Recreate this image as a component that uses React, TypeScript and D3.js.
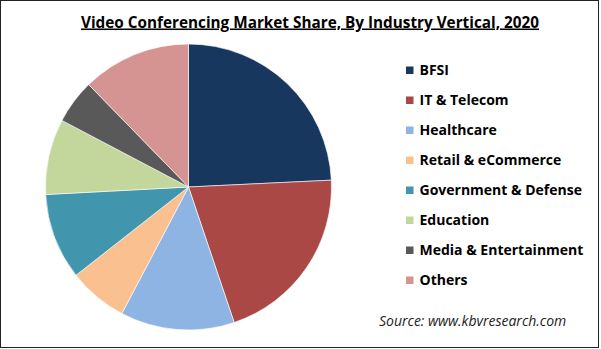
import React from "react";
import * as d3 from "d3";

const categories = [
  "BFSI",
  "IT & Telecom",
  "Healthcare",
  "Retail & eCommerce",
  "Government & Defense",
  "Education",
  "Media & Entertainment",
  "Others",
];
const shares = [24.25, 20.6, 12.9, 6.7, 9.75, 8.55, 5.0, 12.3];
const colors = [
  "#17375E",
  "#A94845",
  "#8EB4E3",
  "#FAC090",
  "#4195AC",
  "#C3D69B",
  "#595959",
  "#D59392",
];
const title = "Video Conferencing Market Share, By Industry Vertical, 2020";
const source = "Source: www.kbvresearch.com";

const W = 601;
const H = 349;

export default function App() {
  const data = categories.map((c, i) => ({ name: c, value: shares[i], color: colors[i] }));
  const pie = d3.pie<any>().value((d) => d.value).sort(null);
  const arcs = pie(data);
  const arc = d3.arc<any>().innerRadius(0).outerRadius(143);
  const cx = 188.5;
  const cy = 187;
  const legendY = d3.scalePoint<string>().domain(categories).range([70, 280]);
  const font = "'Open Sans', sans-serif";
  return (
    <svg
      width={W}
      height={H}
      style={{ position: "fixed", left: 0, top: 0, background: "#fff" }}
      fontFamily={font}
    >
      <rect x={0.5} y={0.5} width={598} height={347} fill="#fff" stroke="#222" strokeWidth={1} />
      <text
        x={310}
        y={27.5}
        textAnchor="middle"
        fontSize={15.3}
        fontWeight="bold"
        fill="#000"
        textDecoration="underline"
      >
        {title}
      </text>
      <g transform={`translate(${cx},${cy})`}>
        {arcs.map((a, i) => (
          <path key={i} d={arc(a) || ""} fill={a.data.color} stroke="#fff" strokeWidth={0.6} />
        ))}
      </g>
      <g>
        {categories.map((c, i) => (
          <g key={c} transform={`translate(406,${legendY(c)})`}>
            <rect x={0} y={-3.5} width={7.5} height={7.5} fill={colors[i]} />
            <text x={13.5} y={5} fontSize={14} fontWeight="bold" fill="#000">
              {c}
            </text>
          </g>
        ))}
      </g>
      <text x={379} y={325.5} fontSize={14} fontStyle="italic" fill="#222">
        {source}
      </text>
    </svg>
  );
}
